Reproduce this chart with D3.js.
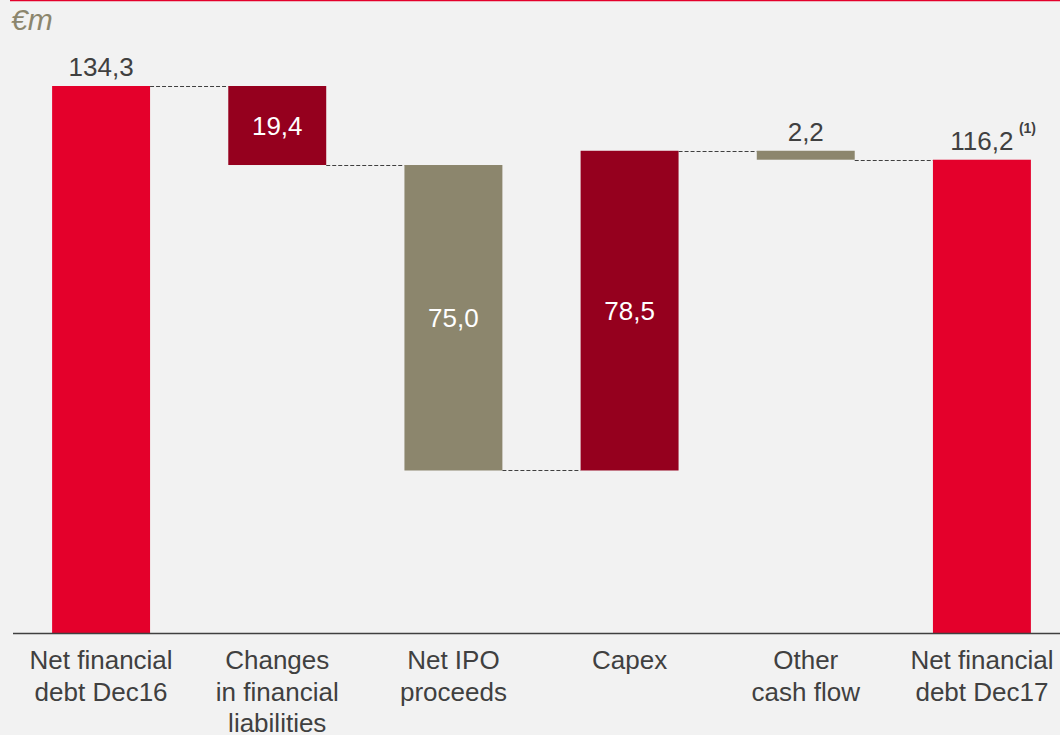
<!DOCTYPE html>
<html>
<head>
<meta charset="utf-8">
<script src="https://cdn.jsdelivr.net/npm/d3@7"></script>
<style>
  body { margin: 0; background: #f2f2f2; }
  svg { display: block; font-family: 'Liberation Sans', Arial, sans-serif; }
</style>
</head>
<body>
<svg></svg>
<script>
// 資料
const categories = [
  ['Net financial', 'debt Dec16'],
  ['Changes', 'in financial', 'liabilities'],
  ['Net IPO', 'proceeds'],
  ['Capex'],
  ['Other', 'cash flow'],
  ['Net financial', 'debt Dec17'],
];
const values = [134.3, -19.4, -75.0, 78.5, -2.2, 116.2];
const kinds = ['total', 'down', 'down', 'up', 'down', 'total'];
const valueLabels = ['134,3', '19,4', '75,0', '78,5', '2,2', '116,2'];
const labelPos = ['above', 'inside', 'inside', 'inside', 'above', 'above'];

const W = 1060, H = 735;
const svg = d3.select('svg').attr('width', W).attr('height', H);

svg.append('rect').attr('width', W).attr('height', H).attr('fill', '#f2f2f2');

// 頂部紅線
svg.append('line')
  .attr('x1', 10).attr('x2', W).attr('y1', 0.5).attr('y2', 0.5)
  .attr('stroke', '#e4002b').attr('stroke-width', 1.5);

svg.append('text')
  .attr('x', 11).attr('y', 30)
  .attr('font-size', 30).attr('font-style', 'italic')
  .attr('fill', '#8c866d')
  .text('€m');

const x = d3.scaleBand()
  .domain(d3.range(categories.length))
  .range([13, 1070])
  .paddingInner(0.444)
  .paddingOuter(0.222);

const y = d3.scaleLinear().domain([0, 134.3]).range([633, 86]);

// 計算每根柱子的起訖
let running = 0;
const bars = values.map((v, i) => {
  let y0, y1;
  if (kinds[i] === 'total') {
    y0 = 0; y1 = v; running = v;
  } else {
    y0 = running; y1 = running + v; running = y1;
  }
  return { i, lo: Math.min(y0, y1), hi: Math.max(y0, y1), start: y0, end: y1, kind: kinds[i] };
});

const colors = { total: '#e4002b', down: '#95001e', up: '#95001e' };
// 淨 IPO 及其他現金流用卡其色
const fillFor = (d) => (d.i === 2 || d.i === 4 ? '#8c866d' : colors[d.kind]);

// 虛線連接
const g = svg.append('g');
bars.slice(0, -1).forEach((d, k) => {
  const next = bars[k + 1];
  const level = d.end;
  g.append('line')
    .attr('x1', x(d.i) + x.bandwidth())
    .attr('x2', x(next.i))
    .attr('y1', Math.round(y(level)) + 0.5)
    .attr('y2', Math.round(y(level)) + 0.5)
    .attr('stroke', '#404040')
    .attr('stroke-width', 1)
    .attr('stroke-dasharray', '4,2');
});

g.selectAll('rect.bar')
  .data(bars)
  .enter()
  .append('rect')
  .attr('class', 'bar')
  .attr('x', (d) => x(d.i))
  .attr('width', x.bandwidth())
  .attr('y', (d) => y(d.hi))
  .attr('height', (d) => y(d.lo) - y(d.hi))
  .attr('fill', fillFor);

// 數值標籤
g.selectAll('text.val')
  .data(bars)
  .enter()
  .append('text')
  .attr('class', 'val')
  .attr('x', (d) => x(d.i) + x.bandwidth() / 2)
  .attr('y', (d) =>
    labelPos[d.i] === 'above' ? y(d.hi) - 10 : (y(d.hi) + y(d.lo)) / 2 + 9.5
  )
  .attr('text-anchor', 'middle')
  .attr('font-size', 26)
  .attr('fill', (d) => (labelPos[d.i] === 'above' ? '#404040' : '#ffffff'))
  .text((d) => valueLabels[d.i]);

// 註腳 (1)
const last = bars[bars.length - 1];
g.append('text')
  .attr('x', x(last.i) + x.bandwidth() / 2 + 37)
  .attr('y', y(last.hi) - 27)
  .attr('font-size', 14)
  .attr('font-weight', 'bold')
  .attr('fill', '#404040')
  .text('(1)');

// x 軸
svg.append('line')
  .attr('x1', 13).attr('x2', W)
  .attr('y1', 633.5).attr('y2', 633.5)
  .attr('stroke', '#404040').attr('stroke-width', 1.5);

const cat = svg.selectAll('text.cat')
  .data(categories)
  .enter()
  .append('text')
  .attr('class', 'cat')
  .attr('text-anchor', 'middle')
  .attr('font-size', 26)
  .attr('fill', '#404040');

cat.selectAll('tspan')
  .data((d, i) => d.map((line, j) => ({ line, i, j })))
  .enter()
  .append('tspan')
  .attr('x', (d) => x(d.i) + x.bandwidth() / 2)
  .attr('y', (d) => 669 + d.j * 31.5)
  .text((d) => d.line);
</script>
</body>
</html>
